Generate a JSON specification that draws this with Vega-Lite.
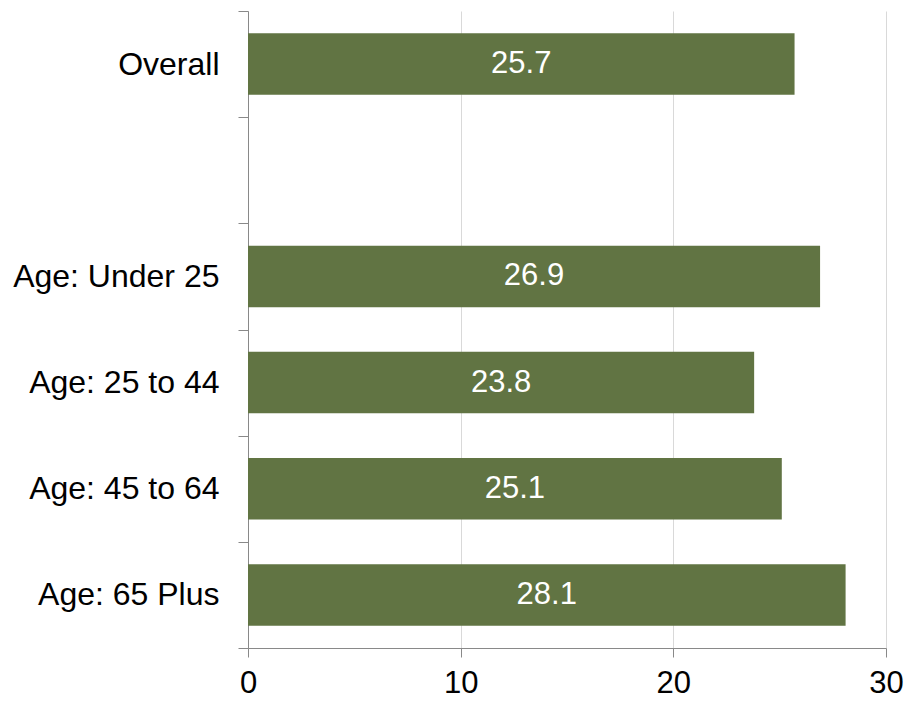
{
  "$schema": "https://vega.github.io/schema/vega-lite/v6.json",
  "autosize": "none",
  "width": 638,
  "height": 637,
  "padding": {"left": 248, "top": 11, "right": 23, "bottom": 53},
  "background": "white",
  "config": {
    "view": {"stroke": null},
    "font": "Liberation Sans"
  },
  "data": {
    "values": [
      {"group": "Overall", "value": 25.7},
      {"group": "Age: Under 25", "value": 26.9},
      {"group": "Age: 25 to 44", "value": 23.8},
      {"group": "Age: 45 to 64", "value": 25.1},
      {"group": "Age: 65 Plus", "value": 28.1}
    ]
  },
  "encoding": {
    "y": {
      "field": "group",
      "type": "nominal",
      "title": null,
      "scale": {
        "domain": ["Overall", " ", "Age: Under 25", "Age: 25 to 44", "Age: 45 to 64", "Age: 65 Plus"],
        "paddingInner": 0,
        "paddingOuter": 0
      },
      "axis": {
        "tickBand": "extent",
        "domainColor": "#898989",
        "tickColor": "#898989",
        "tickSize": 10,
        "labelFontSize": 32,
        "labelColor": "#000000",
        "labelPadding": 19,
        "labelLimit": 400,
        "labelFont": "Liberation Sans"
      }
    }
  },
  "layer": [
    {
      "mark": {"type": "bar", "color": "#617443", "height": {"band": 0.58}},
      "encoding": {
        "x": {
          "field": "value",
          "type": "quantitative",
          "title": null,
          "scale": {"domain": [0, 30], "nice": false},
          "axis": {
            "values": [0, 10, 20, 30],
            "grid": true,
            "gridColor": "#d9d9d9",
            "gridWidth": 1,
            "domainColor": "#898989",
            "tickColor": "#898989",
            "tickSize": 9,
            "labelFontSize": 31,
            "labelColor": "#000000",
            "labelPadding": 11,
            "labelFont": "Liberation Sans",
            "labelFlush": false
          }
        }
      }
    },
    {
      "transform": [{"calculate": "datum.value / 2", "as": "mid"}],
      "mark": {"type": "text", "color": "white", "fontSize": 31, "align": "center", "baseline": "middle", "font": "Liberation Sans"},
      "encoding": {
        "x": {"field": "mid", "type": "quantitative"},
        "text": {"field": "value", "type": "quantitative", "format": ".1f"}
      }
    }
  ]
}
